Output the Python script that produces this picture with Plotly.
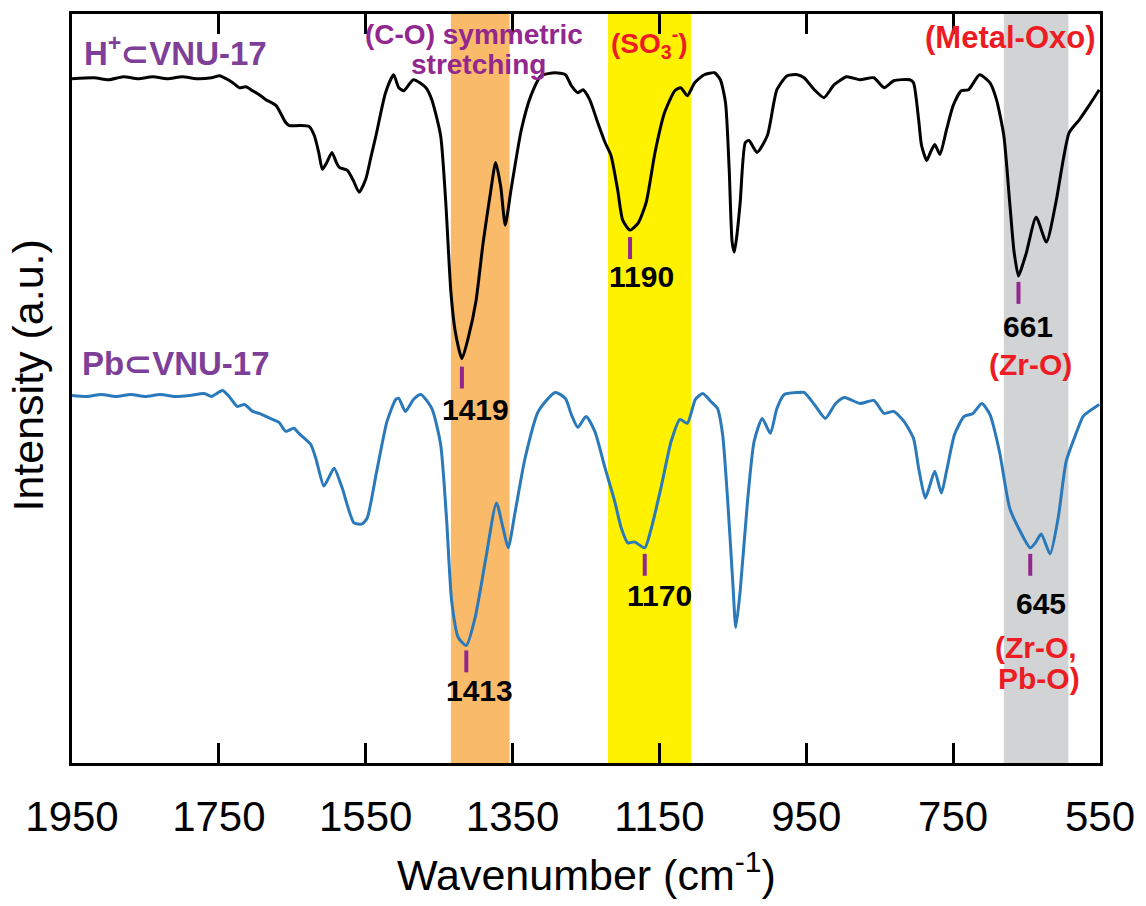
import plotly.graph_objects as go

# ---- FTIR spectra (wavenumber in cm-1, intensity in arbitrary units, curves offset) ----
wn_h = [1950, 1920, 1900, 1880, 1860, 1840, 1820, 1800, 1780, 1760, 1749, 1740, 1731, 1722,
        1713, 1704, 1695, 1686, 1672, 1659, 1654, 1640, 1627, 1620, 1614, 1609, 1603, 1596,
        1590, 1586, 1575, 1567, 1559, 1550, 1543, 1536, 1523, 1512, 1505, 1498, 1485, 1468,
        1460, 1448, 1441, 1434, 1428, 1419, 1410, 1400, 1390, 1380, 1373, 1366, 1360, 1352,
        1338, 1325, 1311, 1292, 1278, 1270, 1261, 1254, 1245, 1234, 1224, 1216, 1207, 1200,
        1190, 1179, 1168, 1156, 1143, 1129, 1121, 1112, 1102, 1089, 1075, 1067, 1060, 1055,
        1051, 1048, 1044, 1040, 1033, 1028, 1017, 1003, 990, 976, 962, 953, 939, 926, 912,
        895, 877, 858, 844, 831, 809, 804, 797, 793, 786, 781, 775, 768, 759, 750, 739, 729,
        714, 700, 691, 681, 673, 667, 661, 655, 650, 637, 623, 610, 600, 592, 578, 565, 551]
int_h = [687, 688, 686, 689, 687, 689, 687, 689, 687, 688, 690, 687, 683, 678,
         679, 675, 671, 666, 660, 643, 640, 640, 639, 630, 613, 596, 603, 613,
         603, 598, 595, 585, 573, 586, 608, 630, 673, 691, 678, 675, 686, 678,
         666, 630, 563, 473, 433, 406, 428, 463, 523, 573, 603, 578, 540, 576,
         636, 670, 690, 693, 691, 680, 673, 676, 666, 643, 623, 610, 576, 545,
         535, 542, 563, 613, 653, 675, 678, 670, 683, 691, 693, 686, 663, 596,
         523, 513, 533, 563, 623, 625, 613, 630, 676, 690, 691, 688, 676, 668, 681,
         689, 686, 688, 678, 685, 686, 683, 646, 620, 605, 613, 621, 611, 636, 660, 675, 676,
         691, 683, 666, 630, 563, 513, 489, 501, 513, 548, 523, 563, 606, 633, 646, 660, 676]

wn_pb = [1950, 1930, 1910, 1890, 1870, 1850, 1830, 1810, 1790, 1770, 1760, 1745, 1736, 1725,
         1715, 1704, 1695, 1686, 1677, 1668, 1659, 1648, 1641, 1625, 1618, 1607, 1600, 1593,
         1582, 1566, 1555, 1548, 1535, 1521, 1509, 1505, 1496, 1485, 1475, 1460, 1448, 1440,
         1433, 1424, 1413, 1401, 1387, 1372, 1363, 1356, 1347, 1333, 1315, 1292, 1278, 1270,
         1261, 1250, 1238, 1224, 1211, 1202, 1193, 1184, 1170, 1162, 1148, 1134, 1122, 1112,
         1101, 1091, 1080, 1071, 1064, 1057, 1050, 1046, 1040, 1030, 1021, 1010, 999, 990,
         980, 962, 953, 939, 924, 910, 898, 877, 858, 844, 831, 817, 804, 797, 788, 782, 775,
         766, 759, 748, 735, 723, 711, 700, 687, 673, 661, 645, 638, 630, 618, 607, 596, 583,
         573, 565, 551]
int_pb = [369, 368, 370, 368, 370, 368, 370, 368, 369, 371, 368, 374, 368, 358,
          360, 353, 351, 348, 345, 342, 333, 336, 331, 320, 306, 278, 287, 296,
          276, 241, 240, 246, 293, 343, 365, 366, 353, 365, 370, 356, 320, 246,
          163, 126, 118, 146, 203, 261, 236, 216, 250, 306, 353, 372, 366, 350,
          337, 348, 333, 296, 263, 236, 221, 222, 216, 233, 276, 323, 345, 341,
          365, 371, 363, 356, 330, 263, 180, 136, 173, 263, 323, 346, 331, 356,
          370, 372, 372, 360, 346, 361, 367, 361, 364, 351, 353, 343, 326, 296, 266, 278, 293,
          271, 293, 330, 348, 351, 361, 350, 313, 256, 236, 216, 221, 230, 210, 246, 303, 330,
          348, 353, 360]

# Assigned peak positions (cm-1) and the absorption bands highlighted
peaks_h = [1419, 1190, 661]
peaks_pb = [1413, 1170, 645]
bands = [(1434, 1354, "#F9BB6A"), (1220, 1107, "#FFF200"), (681, 593, "#D1D3D4")]

x_ticks = [1950, 1750, 1550, 1350, 1150, 950, 750, 550]

PURPLE = "#7E3F98"
PURPLE2 = "#92278F"
RED = "#ED1C24"
FONT = "Liberation Sans, Arial, sans-serif"

fig = go.Figure()

fig.add_trace(go.Scatter(x=wn_h, y=int_h, mode="lines", line=dict(color="#000000", width=3, shape="spline", smoothing=0.6),
                         name="H+⊂VNU-17", hoverinfo="skip"))
fig.add_trace(go.Scatter(x=wn_pb, y=int_pb, mode="lines", line=dict(color="#2A79BB", width=3, shape="spline", smoothing=0.6),
                         name="Pb⊂VNU-17", hoverinfo="skip"))

shapes = []
for x0, x1, col in bands:
    shapes.append(dict(type="rect", xref="x", yref="paper", x0=x0, x1=x1, y0=0, y1=1,
                       fillcolor=col, line=dict(width=0), layer="below"))

# short purple markers beneath each assigned peak
mark_spans_h = [(376, 398), (506, 528), (461, 483)]
mark_spans_pb = [(91, 113), (188, 210), (188, 210)]
for p, (y0, y1) in zip(peaks_h + peaks_pb, mark_spans_h + mark_spans_pb):
    shapes.append(dict(type="line", xref="x", yref="y", x0=p, x1=p, y0=y0, y1=y1,
                       line=dict(color=PURPLE2, width=4)))

ann = []


def label(text, x, y, size, color, xanchor="center"):
    ann.append(dict(text=text, x=x, y=y, xref="x", yref="y", showarrow=False,
                    xanchor=xanchor, yanchor="middle",
                    font=dict(family=FONT, size=size, color=color)))


label("<b>H<sup>+</sup>⊂VNU-17</b>", 1937, 715, 33, PURPLE, "left")
label("<b>Pb⊂VNU-17</b>", 1939, 401, 33, PURPLE, "left")
label("<b>(C-O) symmetric</b>", 1402, 731, 28, PURPLE2)
label("<b>stretching</b>", 1396, 701, 28, PURPLE2)
label("<b>(SO<sub>3</sub><sup>-</sup>)</b>", 1163, 723, 28, RED)
label("<b>(Metal-Oxo)</b>", 672, 728, 31, RED)

# peak position labels
label(f"<b>{peaks_h[0]}</b>", 1400, 355, 30, "#000000")
label(f"<b>{peaks_h[1]}</b>", 1175, 488, 30, "#000000")
label(f"<b>{peaks_h[2]}</b>", 648, 438, 30, "#000000")
label("<b>(Zr-O)</b>", 645, 400, 30, RED)
label(f"<b>{peaks_pb[0]}</b>", 1395, 73, 30, "#000000")
label(f"<b>{peaks_pb[1]}</b>", 1150, 168, 30, "#000000")
label(f"<b>{peaks_pb[2]}</b>", 631, 160, 30, "#000000")
label("<b>(Zr-O,</b>", 637, 116, 30, RED)
label("<b>Pb-O)</b>", 633, 85, 30, RED)

# axis titles
ann.append(dict(text="Intensity (a.u.)", x=-0.043, y=0.517, xref="paper", yref="paper",
                showarrow=False, textangle=-90, xanchor="center", yanchor="middle",
                font=dict(family=FONT, size=43, color="#000000")))
ann.append(dict(text="Wavenumber (cm<sup>-1</sup>)", x=0.5, y=-0.145, xref="paper", yref="paper",
                showarrow=False, xanchor="center", yanchor="middle",
                font=dict(family=FONT, size=43, color="#000000")))

fig.update_layout(
    width=1146, height=906,
    margin=dict(l=72, r=42, t=11, b=143),
    paper_bgcolor="white", plot_bgcolor="white",
    showlegend=False,
    shapes=shapes, annotations=ann,
    xaxis=dict(range=[1950, 550], tickvals=x_ticks, ticktext=[str(v) for v in x_ticks],
               ticks="inside", ticklen=20, tickwidth=3, tickcolor="#000000",
               showline=True, linewidth=3, linecolor="#000000", mirror="ticks",
               showgrid=False, zeroline=False, ticklabelstandoff=15,
               tickfont=dict(family=FONT, size=42, color="#000000")),
    yaxis=dict(range=[0, 752], showticklabels=False, ticks="",
               showline=True, linewidth=3, linecolor="#000000", mirror=True,
               showgrid=False, zeroline=False),
)

fig.write_html("out.html")
